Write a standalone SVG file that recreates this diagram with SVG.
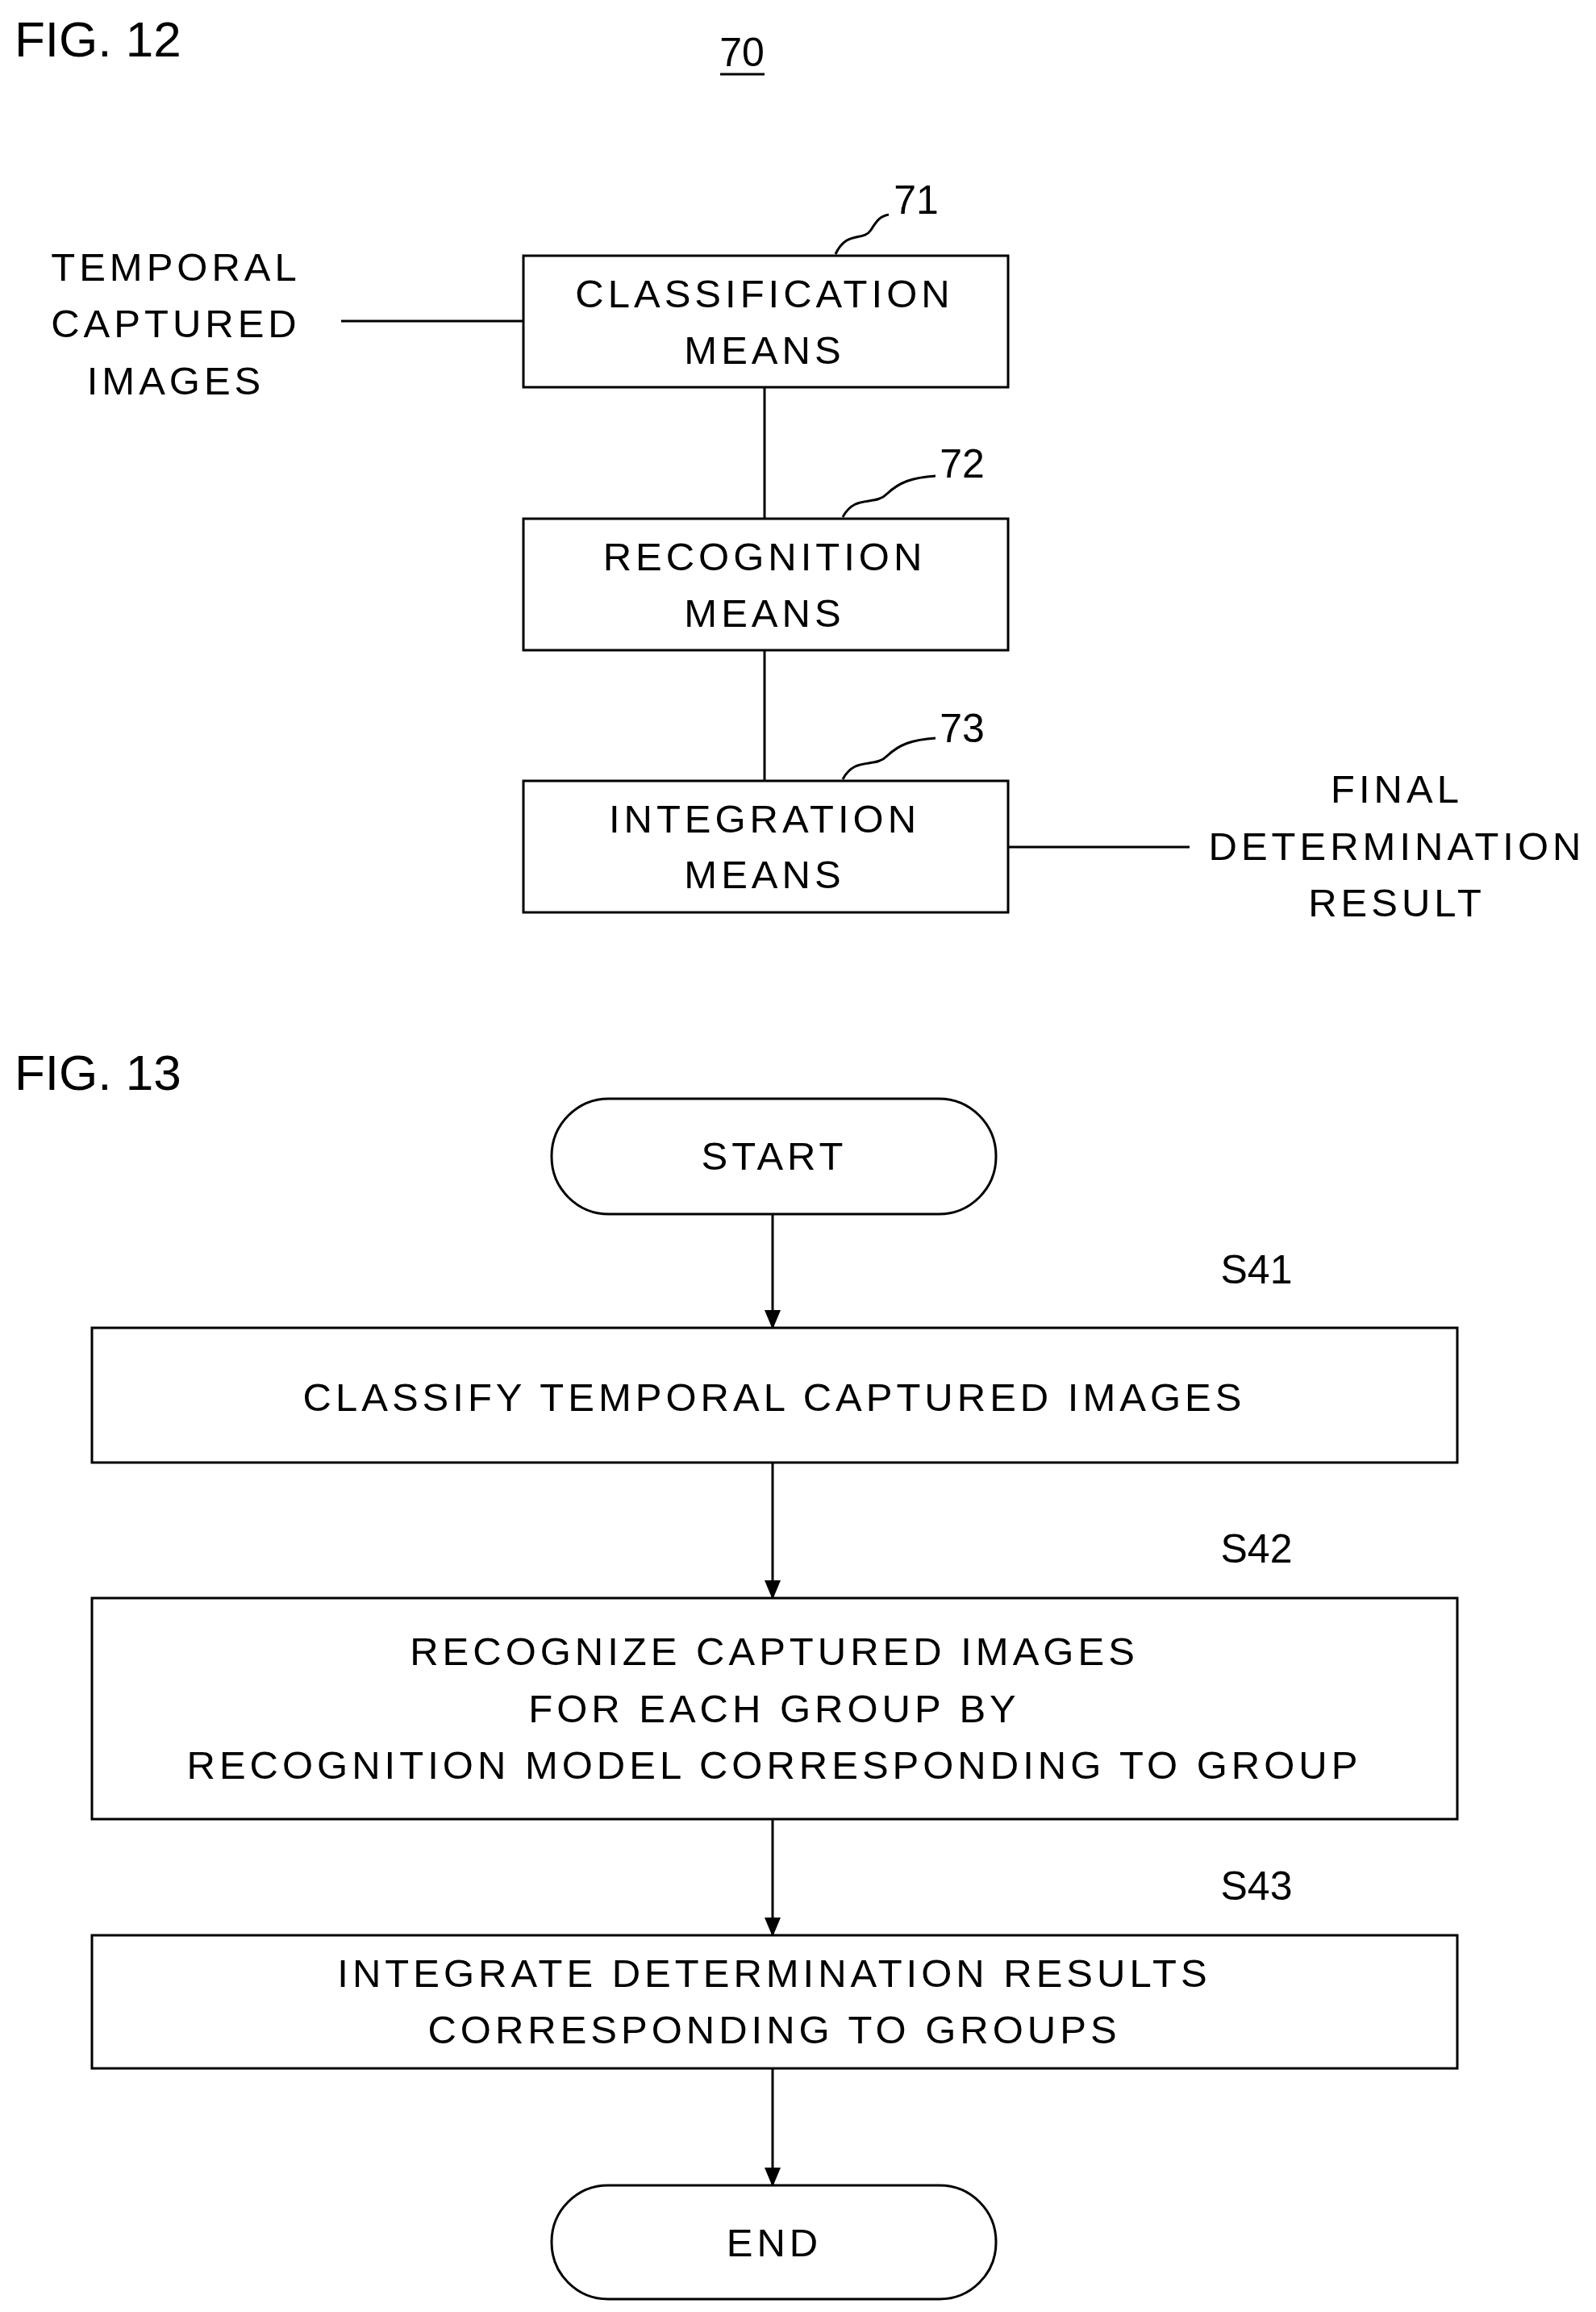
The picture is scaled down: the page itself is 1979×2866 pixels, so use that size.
<svg xmlns="http://www.w3.org/2000/svg" width="1979" height="2866" viewBox="0 0 1979 2866">
<defs>
<style>
text{font-family:"Liberation Sans",Arial,sans-serif;fill:#000}
.t{font-size:49px;letter-spacing:5px;text-anchor:middle}
.fig{font-size:62px}
.ref{font-size:50px;text-anchor:middle}
.b{fill:#fff;stroke:#000;stroke-width:3}
.l{stroke:#000;stroke-width:3;fill:none}
</style>
<marker id="a" markerWidth="12" markerHeight="12" refX="11" refY="6" orient="auto" markerUnits="userSpaceOnUse" viewBox="0 0 12 12"><path d="M0,0 L12,6 L0,12 Z" fill="#000"/></marker>
<marker id="ah" viewBox="0 0 24 24" markerWidth="24" markerHeight="24" refX="22" refY="12" orient="auto" markerUnits="userSpaceOnUse"><path d="M0,2 L24,12 L0,22 Z" fill="#000"/></marker>
</defs>
<rect width="1979" height="2866" fill="#fff"/>
<text class="fig" x="18" y="70">FIG. 12</text>
<text class="ref" x="920" y="82">70</text>
<line class="l" x1="893" y1="92" x2="948" y2="92"/>
<g id="connectors">
<line class="l" x1="423" y1="398" x2="649" y2="398"/>
<line class="l" x1="948" y1="480" x2="948" y2="643"/>
<line class="l" x1="948" y1="806" x2="948" y2="968"/>
<line class="l" x1="1250" y1="1050" x2="1475" y2="1050"/>
<path class="l" d="M1036,315 C1050,285 1070,300 1080,285 C1088,272 1092,268 1102,266"/>
<path class="l" d="M1045,641 C1060,612 1085,628 1100,612 C1115,598 1130,592 1160,590"/>
<path class="l" d="M1045,966 C1060,937 1085,953 1100,937 C1115,923 1130,917 1160,915"/>
<line class="l" x1="958" y1="1505" x2="958" y2="1646" marker-end="url(#ah)"/>
<line class="l" x1="958" y1="1813" x2="958" y2="1981" marker-end="url(#ah)"/>
<line class="l" x1="958" y1="2255" x2="958" y2="2399" marker-end="url(#ah)"/>
<line class="l" x1="958" y1="2564" x2="958" y2="2709" marker-end="url(#ah)"/>
</g>
<g id="input"><text class="t" x="218" y="348">TEMPORAL</text><text class="t" x="218" y="418">CAPTURED</text><text class="t" x="218" y="489">IMAGES</text></g>
<g id="n71"><rect class="b" x="649" y="317" width="601" height="163"/><text class="t" x="948" y="381">CLASSIFICATION</text><text class="t" x="948" y="451">MEANS</text><text class="ref" x="1136" y="265">71</text></g>
<g id="n72"><rect class="b" x="649" y="643" width="601" height="163"/><text class="t" x="948" y="707">RECOGNITION</text><text class="t" x="948" y="777">MEANS</text><text class="ref" x="1193" y="592">72</text></g>
<g id="n73"><rect class="b" x="649" y="968" width="601" height="163"/><text class="t" x="948" y="1032">INTEGRATION</text><text class="t" x="948" y="1101">MEANS</text><text class="ref" x="1193" y="920">73</text></g>
<g id="output"><text class="t" x="1732" y="995">FINAL</text><text class="t" x="1732" y="1066">DETERMINATION</text><text class="t" x="1732" y="1136">RESULT</text></g>
<text class="fig" x="18" y="1351">FIG. 13</text>
<g id="start"><rect class="b" x="684" y="1362" width="551" height="143" rx="71"/><text class="t" x="960" y="1450">START</text></g>
<g id="s41"><text class="ref" x="1558" y="1591">S41</text><rect class="b" x="114" y="1646" width="1693" height="167"/><text class="t" x="960" y="1749">CLASSIFY TEMPORAL CAPTURED IMAGES</text></g>
<g id="s42"><text class="ref" x="1558" y="1937">S42</text><rect class="b" x="114" y="1981" width="1693" height="274"/><text class="t" x="960" y="2064">RECOGNIZE CAPTURED IMAGES</text><text class="t" x="960" y="2135">FOR EACH GROUP BY</text><text class="t" x="960" y="2205">RECOGNITION MODEL CORRESPONDING TO GROUP</text></g>
<g id="s43"><text class="ref" x="1558" y="2355">S43</text><rect class="b" x="114" y="2399" width="1693" height="165"/><text class="t" x="960" y="2463">INTEGRATE DETERMINATION RESULTS</text><text class="t" x="960" y="2533">CORRESPONDING TO GROUPS</text></g>
<g id="end"><rect class="b" x="684" y="2709" width="551" height="141" rx="70"/><text class="t" x="960" y="2797">END</text></g>
</svg>
